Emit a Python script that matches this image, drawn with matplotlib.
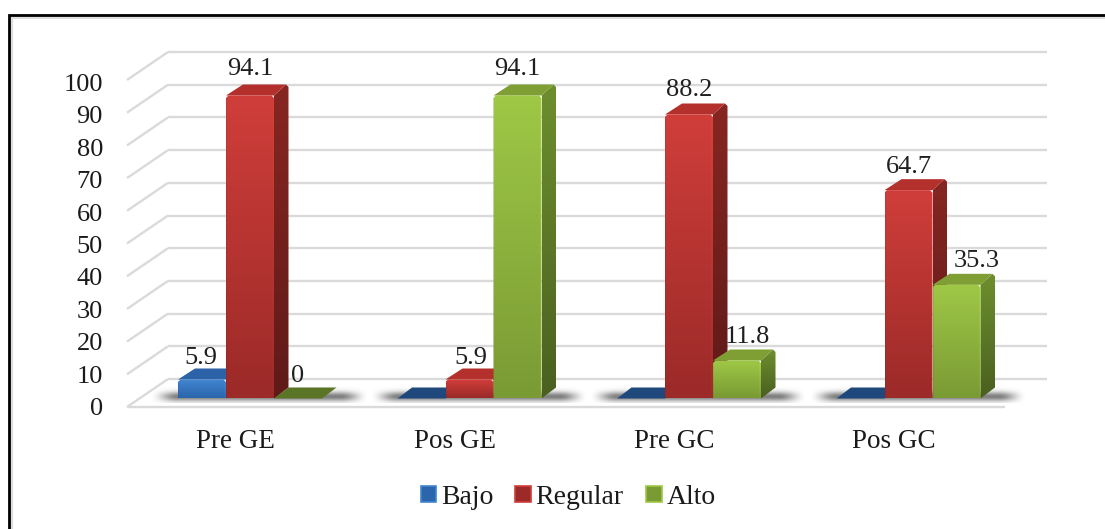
import numpy as np
import matplotlib
matplotlib.use("Agg")
import matplotlib.pyplot as plt
from matplotlib.colors import to_rgb
from matplotlib.lines import Line2D
from matplotlib.patches import Patch, Polygon

plt.rcParams["font.family"] = ["Liberation Serif", "DejaVu Serif"]

# Chart data
groups = ["Pre GE", "Pos GE", "Pre GC", "Pos GC"]
series = ["Bajo", "Regular", "Alto"]
bajo = [5.9, 0, 0, 0]
regular = [94.1, 5.9, 88.2, 64.7]
alto = [0, 94.1, 11.8, 35.3]
y_ticks = list(range(0, 101, 10))

# Only non-zero values are labelled, apart from the explicit zero on Pre GE / Alto
shown_labels = {
    (0, 0): "5.9", (0, 1): "94.1", (0, 2): "0",
    (1, 1): "5.9", (1, 2): "94.1",
    (2, 1): "88.2", (2, 2): "11.8",
    (3, 1): "64.7", (3, 2): "35.3",
}
# Label nudges in pixels (dx, dy above the bar's front top edge)
label_nudge = {
    (0, 0): (-1, 22), (0, 1): (0, 26), (0, 2): (0, 23),
    (1, 1): (1, 22), (1, 2): (0, 26),
    (2, 1): (0, 24), (2, 2): (10, 24),
    (3, 1): (0, 23), (3, 2): (20, 24),
}

# Face colours: front top, front bottom, side top, side bottom, top face, flat (zero height)
palette = {
    "Bajo": ("#4285D0", "#2B66AC", "#2A5A96", "#1F4675", "#2C62A8", "#1F497D"),
    "Regular": ("#D03E3A", "#9B2A28", "#872622", "#5F1A18", "#B4302D", "#8A2622"),
    "Alto": ("#9FC846", "#7A9A34", "#6E8F2E", "#4A6020", "#7F9F35", "#5A7526"),
}

W, H = 1105, 529
PX_PER_GROUP = 219.5     # horizontal pixels per category step
PX_PER_UNIT = 3.22       # vertical pixels per value unit on the bars
WALL_PX_PER_UNIT = 3.27  # vertical pixels per value unit on the back wall
LABEL_PX_PER_UNIT = 3.24 # vertical pixels per value unit on the axis labels
X0_PX, Y0_PX = 250.0, 398.5
BAR_W = 48 / PX_PER_GROUP
DEPTH_X = 14.5 / PX_PER_GROUP
DEPTH_Y = 11 / PX_PER_UNIT

fig = plt.figure(figsize=(W / 100, H / 100), dpi=100, facecolor="white")
ax = fig.add_axes([0, 0, 1, 1])
ax.set_xlim(-X0_PX / PX_PER_GROUP, (W - X0_PX) / PX_PER_GROUP)
ax.set_ylim((Y0_PX - H) / PX_PER_UNIT, Y0_PX / PX_PER_UNIT)
ax.axis("off")
ax.set_autoscale_on(False)


def px(x, y):
    """Pixel position (origin top-left) to data coordinates."""
    return (x - X0_PX) / PX_PER_GROUP, (Y0_PX - y) / PX_PER_UNIT


def shaded_face(corners, colour_a, colour_b, zorder, edge=True):
    """Polygon face filled with a gradient from colour_a to colour_b."""
    pts = np.array(corners)
    (x0, y0), (x1, y1) = pts.min(axis=0), pts.max(axis=0)
    a, b = np.array(to_rgb(colour_a)), np.array(to_rgb(colour_b))
    rows = max(int((y1 - y0) * PX_PER_UNIT), 2)
    cols = max(int((x1 - x0) * PX_PER_GROUP), 2)
    t = np.linspace(0, 1, rows)[:, None, None]
    img = np.repeat(a * (1 - t) + b * t, cols, axis=1)
    if edge:
        # thin bevel down the vertical borders
        img[:, :1] = np.clip(img[:, :1] * 0.94, 0, 1)
        img[:, -2:] = np.clip(img[:, -2:] * 1.04, 0, 1)
    im = ax.imshow(img, extent=(x0, x1, y0, y1), origin="upper", aspect="auto",
                   interpolation="bilinear", zorder=zorder)
    clip = Polygon(corners, closed=True, transform=ax.transData, fc="none", ec="none")
    ax.add_patch(clip)
    im.set_clip_path(clip)


def draw_bar(x_left, value, colours, zorder):
    front_top, front_bot, side_top, side_bot, top_col, flat_col = colours
    x_right = x_left + BAR_W
    if value == 0:
        ax.add_patch(Polygon([(x_left, 0), (x_right, 0),
                              (x_right + DEPTH_X, DEPTH_Y), (x_left + DEPTH_X, DEPTH_Y)],
                             closed=True, fc=flat_col, ec="none", zorder=zorder))
        return
    cx, cy = 2.5 / PX_PER_GROUP, 2.5 / PX_PER_UNIT
    # side face, slightly inset at the rear top corner
    shaded_face([(x_right, 0), (x_right + DEPTH_X, DEPTH_Y),
                 (x_right + DEPTH_X, value + DEPTH_Y - cy),
                 (x_right + DEPTH_X - cx, value + DEPTH_Y), (x_right, value)],
                side_top, side_bot, zorder, edge=False)
    # top face
    ax.add_patch(Polygon([(x_left, value), (x_right, value),
                          (x_right + DEPTH_X - cx, value + DEPTH_Y),
                          (x_left + DEPTH_X + cx, value + DEPTH_Y)],
                         closed=True, fc=top_col, ec="none", zorder=zorder))
    # front face with softened upper corners
    shaded_face([(x_left, 0), (x_right, 0), (x_right, value - cy), (x_right - cx, value),
                 (x_left + cx, value), (x_left, value - cy)],
                front_top, front_bot, zorder + 0.1)


def floor_shadow(i):
    """Soft cast shadow lying on the floor behind one group of bars."""
    x0, y_top = px(X0_PX + i * PX_PER_GROUP - 100, 383)
    x1, y_bot = px(X0_PX + i * PX_PER_GROUP + 118, 403)
    u = np.linspace(0, 1, 436)
    v = np.linspace(0, 1, 80)
    edge_x = np.clip(np.minimum(u, 1 - u) / 0.13, 0, 1)
    edge_x = edge_x * edge_x * (3 - 2 * edge_x)
    # densest just behind the bar feet, fading both ways
    edge_y = np.exp(-((v - 0.68) / 0.24) ** 2)
    alpha = np.outer(edge_y, edge_x) * 0.72
    rgba = np.zeros((80, 436, 4))
    rgba[..., :3] = 0.3
    rgba[..., 3] = alpha
    ax.imshow(rgba, extent=(x0, x1, y_bot, y_top), aspect="auto",
              interpolation="bilinear", zorder=2)


# Back wall gridlines and their return along the side wall
grid_style = dict(color="#DADADA", lw=1.7, solid_capstyle="butt", zorder=1)
for tick in y_ticks:
    wy = 379 - tick * WALL_PX_PER_UNIT
    fy = 407 - tick * WALL_PX_PER_UNIT
    ax.plot(*zip(px(168, wy), px(1047, wy)), **grid_style)
    ax.plot(*zip(px(127, fy), px(168, wy)), **grid_style)
    ax.text(*px(103, 409 - tick * LABEL_PX_PER_UNIT), str(tick), ha="right", va="center",
            fontsize=19, color="#1a1a1a")
# Front edge of the floor
ax.plot(*zip(px(127, 407), px(1005, 407)), **grid_style)

# Bars
values = [bajo, regular, alto]
for g in range(len(groups)):
    floor_shadow(g)
    for s, name in enumerate(series):
        x_left = g + (s - 1) * BAR_W - BAR_W / 2
        draw_bar(x_left, values[s][g], palette[name], zorder=3 + s)
        if (g, s) in shown_labels:
            dx, dy = label_nudge[(g, s)]
            ax.annotate(shown_labels[(g, s)], xy=(x_left + BAR_W / 2, values[s][g]),
                        xytext=(dx * 0.72, dy * 0.72), textcoords="offset points",
                        ha="center", va="center", fontsize=19, color="#1f1f1f", zorder=10)
    ax.text(*px(X0_PX + g * PX_PER_GROUP - 14.5, 442), groups[g], ha="center", va="center",
            fontsize=19.5, color="#1a1a1a")

# Legend
handles = [Patch(facecolor=palette[n][1], edgecolor=palette[n][0], lw=1.2, label=n) for n in series]
leg = ax.legend(handles=handles, ncol=3, loc="center",
                bbox_to_anchor=(568 / W, 1 - 497.5 / H), bbox_transform=fig.transFigure,
                frameon=False, fontsize=20, handlelength=0.56, handleheight=0.52,
                handletextpad=0.17, columnspacing=0.8, borderpad=0, labelcolor="#1a1a1a")

# Black frame, open at the lower right, with its faint grey halo
for color, lw, off in (("#DDDDDD", 2.2, 2.2), ("black", 2.0, 0)):
    fig.add_artist(Line2D([(8.5 + off) / W, (8.5 + off) / W, 1],
                          [0, 1 - (14.5 + off) / H, 1 - (14.5 + off) / H],
                          transform=fig.transFigure, color=color, lw=lw,
                          solid_joinstyle="miter", solid_capstyle="butt"))

fig.savefig("out.png", dpi=100, facecolor="white")
